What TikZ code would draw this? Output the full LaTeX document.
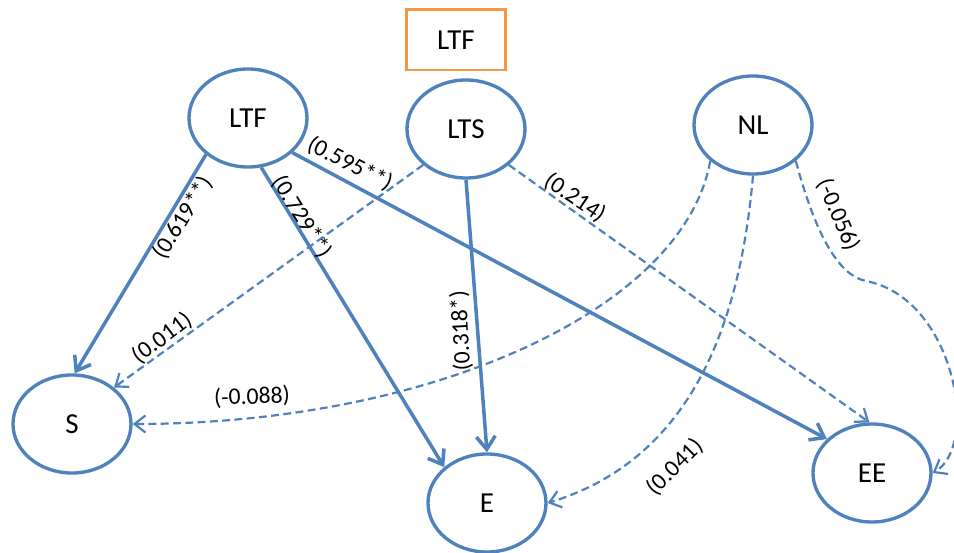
\documentclass[tikz,border=0pt]{standalone}
\usepackage{fontspec}
\setmainfont{Carlito}
\usetikzlibrary{arrows.meta,positioning,calc,shapes.geometric}
\definecolor{pathblue}{RGB}{79,129,189}
\definecolor{boxorange}{RGB}{247,150,70}
\tikzset{
  construct/.style={ellipse,draw=pathblue,line width=1.9pt,fill=white,minimum width=23.6mm,minimum height=19.6mm,inner sep=0pt,font=\fontsize{16.5}{19}\selectfont},
  titlebox/.style={rectangle,draw=boxorange,line width=1.7pt,minimum width=19.8mm,minimum height=12mm,font=\fontsize{16.5}{19}\selectfont},
  coef/.style={inner sep=1pt,font=\fontsize{13.5}{16}\selectfont},
  sigpath/.style={-{Straight Barb[length=2.6mm,width=3.8mm]},draw=pathblue,line width=2pt},
  nspath/.style={-{Straight Barb[length=2.2mm,width=3.4mm]},draw=pathblue,line width=1.25pt,dash pattern=on 4.5pt off 2.5pt}
}

\begin{document}
\begin{tikzpicture}[x=0.2mm,y=0.2mm]
  \useasboundingbox (0,0) rectangle (954,552);
  \node[titlebox] (top) at (456,512) {LTF};
  \node[construct] (LTF) at (248,434) {LTF};
  \node[construct] (LTS) at (466,423) {LTS};
  \node[construct] (NL) at (753,427) {NL};
  \node[construct] (S) at (72,128) {S};
  \node[construct] (E) at (487,49) {E};
  \node[construct] (EE) at (872,79) {EE};
  \coordinate (hump) at (866,271);

  \draw[sigpath] (LTF.221)--(S.87); \draw[sigpath] (LTF.-75)--(E.140);
  \draw[sigpath] (LTF.-38)--(EE.143); \draw[sigpath] (LTS.south)--(E.north);
  \draw[nspath] (LTS.220)--(S.41); \draw[nspath] (LTS.-40)--(EE.93);
  \draw[nspath] (NL.220) to[out=-100,in=0,out distance=30mm,in distance=60mm] (S.east);
  \draw[nspath] (NL.south) to[out=-95,in=17,out distance=30mm,in distance=30mm] (E.east);
  \draw[nspath] (NL.-40) .. controls +(-75:14mm) and +(169:6mm) .. (hump)
    .. controls +(-11:18mm) and +(30:11mm) .. (EE.east);

  \node[coef,rotate=58] (cLTFS) at (183,334) {(0.619**)};
  \node[coef,rotate=-58] (cLTFE) at (302,335) {(0.729**)};
  \node[coef,rotate=-27] (cLTFEE) at (350,388) {(0.595**)};
  \node[coef,rotate=93] (cLTSE) at (461,221) {(0.318*)};
  \node[coef,rotate=37] (cLTSS) at (162,214) {(0.011)};
  \node[coef,rotate=-34] (cLTSEE) at (575,354) {(0.214)};
  \node[coef,rotate=2] (cNLS) at (252,155) {(-0.088)};
  \node[coef,rotate=45] (cNLE) at (675,85) {(0.041)};
  \node[coef,rotate=-67] (cNLEE) at (838,337) {(-0.056)};
\end{tikzpicture}
\end{document}
